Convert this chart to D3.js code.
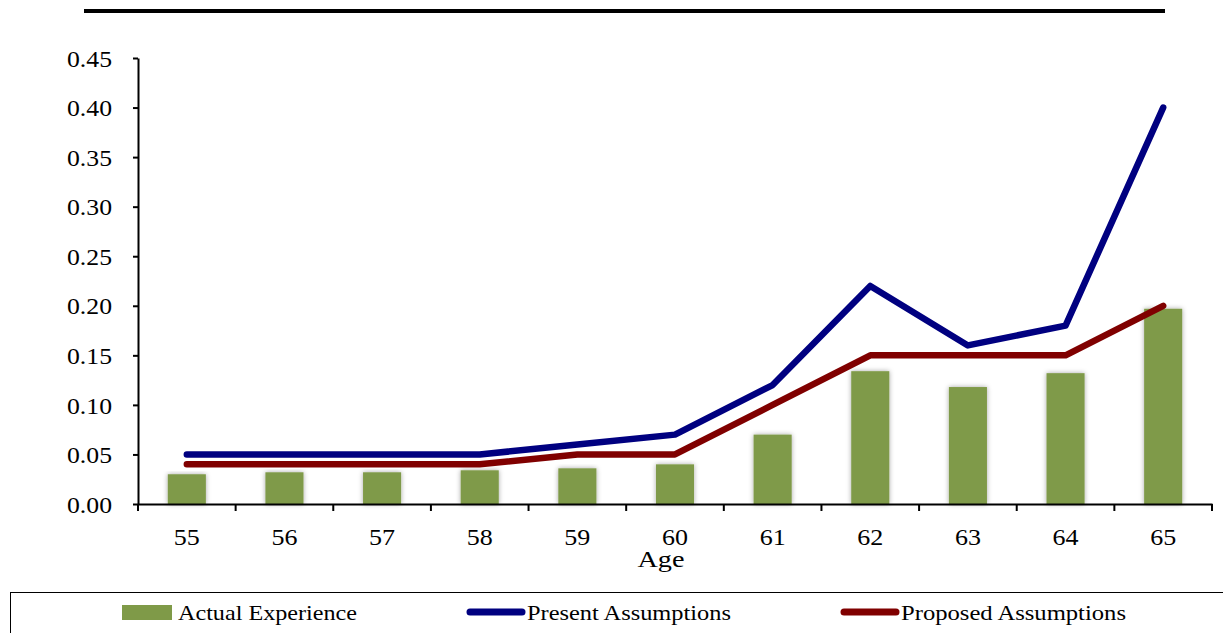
<!DOCTYPE html>
<html><head><meta charset="utf-8">
<script src="https://cdn.jsdelivr.net/npm/d3@7"></script>
<style>body{margin:0;background:#fff}svg{display:block}text{font-family:"Liberation Serif","Times New Roman",serif;fill:#000}</style>
</head><body><svg id="c" width="1223" height="633"></svg>
<script>
const ages = ["55","56","57","58","59","60","61","62","63","64","65"];
const actual = [0.030,0.032,0.032,0.034,0.036,0.040,0.070,0.134,0.118,0.132,0.197];
const present = [0.05,0.05,0.05,0.05,0.06,0.07,0.12,0.22,0.16,0.18,0.40];
const proposed = [0.04,0.04,0.04,0.04,0.05,0.05,0.10,0.15,0.15,0.15,0.20];
const yTicks = [0,0.05,0.10,0.15,0.20,0.25,0.30,0.35,0.40,0.45];
const seriesNames = ["Actual Experience","Present Assumptions","Proposed Assumptions"];
const colors = {bar:"#7F9A48", present:"#000080", proposed:"#800000"};

const svg = d3.select("#c");
const L=138, R=1212, T=58, B=504;
const x = d3.scaleBand().domain(ages).range([L,R]).paddingInner(0.61).paddingOuter(0.305);
const xc = d3.scaleBand().domain(ages).range([L,R]);
const y = d3.scaleLinear().domain([0,0.45]).range([B,T]);

// top rule
svg.append("line").attr("x1",84).attr("x2",1165).attr("y1",11).attr("y2",11).attr("stroke","#000").attr("stroke-width",4);

const defs = svg.append("defs");
const f = defs.append("filter").attr("id","sh").attr("x","-30%").attr("y","-10%").attr("width","160%").attr("height","130%");
f.append("feDropShadow").attr("dx",0).attr("dy",0).attr("stdDeviation",2.5).attr("flood-color","#000").attr("flood-opacity",0.35);

// bars
svg.append("g").selectAll("rect").data(actual).join("rect")
  .attr("x",(d,i)=>x(ages[i])).attr("width",x.bandwidth())
  .attr("y",d=>y(d)).attr("height",d=>B-y(d))
  .attr("fill",colors.bar).attr("filter","url(#sh)");

// axes
const yAxis = d3.axisLeft(y).tickValues(yTicks).tickFormat(d3.format(".2f")).tickSize(5).tickSizeOuter(0);
const gy = svg.append("g").attr("transform",`translate(${L},0)`).call(yAxis).attr("font-family",null).attr("font-size",null);
gy.select(".domain").attr("stroke","#000").attr("stroke-width",2);
gy.selectAll(".tick line").attr("stroke","#000").attr("stroke-width",2);
gy.selectAll(".tick text").style("font-size","24px").style("font-family","'Liberation Serif',serif")
  .attr("x",-26).attr("dy","0.34em").attr("textLength",45).attr("lengthAdjust","spacingAndGlyphs");

const xAxis = d3.axisBottom(xc).tickSize(0).tickSizeOuter(0);
const gx = svg.append("g").attr("transform",`translate(0,${B})`).call(xAxis).attr("font-family",null).attr("font-size",null);
gx.select(".domain").attr("stroke","#000").attr("stroke-width",2);
gx.selectAll(".tick text").style("font-size","23px").style("font-family","'Liberation Serif',serif")
  .attr("y",25).attr("dy","0.71em").attr("textLength",26).attr("lengthAdjust","spacingAndGlyphs");
// boundary ticks between categories
const bounds = ages.map(a=>xc(a)).concat([R]);
svg.append("g").selectAll("line").data(bounds).join("line")
  .attr("x1",d=>d).attr("x2",d=>d).attr("y1",B).attr("y2",B+7).attr("stroke","#000").attr("stroke-width",2);

svg.append("text").attr("x",661).attr("y",567).attr("text-anchor","middle").style("font-size","23px")
  .attr("textLength",47).attr("lengthAdjust","spacingAndGlyphs").text("Age");

// lines
const line = d3.line().x((d,i)=>xc(ages[i])+xc.bandwidth()/2).y(d=>y(d));
svg.append("path").datum(proposed).attr("d",line).attr("fill","none").attr("stroke",colors.proposed).attr("stroke-width",6.5).attr("stroke-linecap","round").attr("stroke-linejoin","round");
svg.append("path").datum(present).attr("d",line).attr("fill","none").attr("stroke",colors.present).attr("stroke-width",6.5).attr("stroke-linecap","round").attr("stroke-linejoin","round");

// legend
svg.append("rect").attr("x",10.5).attr("y",592.5).attr("width",1230).attr("height",60).attr("fill","none").attr("stroke","#000").attr("stroke-width",1);
const lg = svg.append("g");
lg.append("rect").attr("x",122).attr("y",605).attr("width",50).attr("height",15).attr("fill",colors.bar);
lg.append("line").attr("x1",470).attr("x2",522).attr("y1",612).attr("y2",612).attr("stroke",colors.present).attr("stroke-width",7).attr("stroke-linecap","round");
lg.append("line").attr("x1",844).attr("x2",896).attr("y1",612).attr("y2",612).attr("stroke",colors.proposed).attr("stroke-width",7).attr("stroke-linecap","round");
const lx = [178,527,901];
const lw = [179,204,225];
seriesNames.forEach((n,i)=>{
  lg.append("text").attr("x",lx[i]).attr("y",620).style("font-size","22px")
    .attr("textLength",lw[i]).attr("lengthAdjust","spacingAndGlyphs").text(n);
});
</script></body></html>
